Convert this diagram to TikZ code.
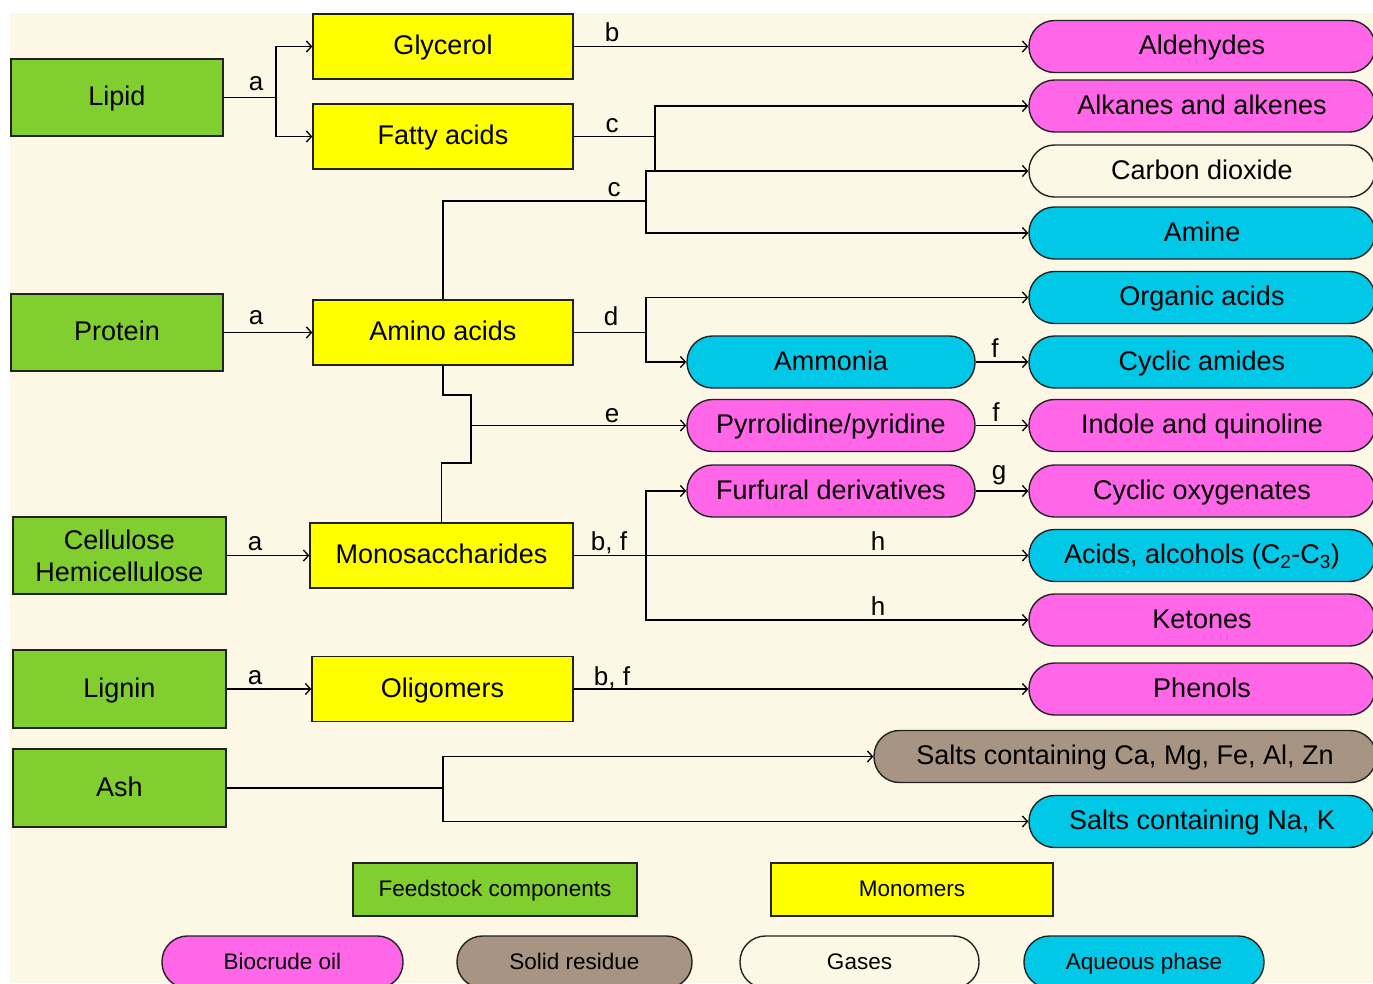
\documentclass[tikz,border=0pt]{standalone}
\usepackage{fontspec}
\setmainfont{Liberation Sans}
\usetikzlibrary{arrows.meta}
\definecolor{bgc}{HTML}{FDF7E6}
\definecolor{feed}{HTML}{80CE30}
\definecolor{mono}{HTML}{FFFF00}
\definecolor{oil}{HTML}{FF66E8}
\definecolor{aq}{HTML}{00C8E6}
\definecolor{solid}{HTML}{A89482}
\definecolor{edge}{HTML}{222222}
\tikzset{
  base/.style={draw=edge, line width=1.4pt, inner sep=0pt, align=center,
    font=\fontsize{27}{32}\selectfont, text=black},
  tx/.style={text height=20pt, text depth=4pt},
  gboxbase/.style={base, fill=feed, minimum width=212pt, minimum height=77pt},
  gbox/.style={gboxbase, tx},
  ybox/.style={base, tx, fill=mono, minimum width=260pt, minimum height=65pt},
  pill/.style={base, tx, rounded corners=25.5pt, minimum height=52pt},
  rpill/.style={pill, minimum width=346pt},
  mpill/.style={pill, minimum width=288pt},
  lgbox/.style={draw=edge, line width=1.4pt, inner sep=0pt, font=\fontsize{22.5}{26}\selectfont,
    text height=17pt, text depth=3pt, minimum height=53pt},
  lgpill/.style={lgbox, rounded corners=25.5pt, minimum height=52pt},
  conn/.style={draw=black, line width=1.4pt},
  arr/.style={conn, -{Straight Barb[length=5pt,width=11pt,line width=1.3pt]}},
  lab/.style={anchor=base, inner sep=0pt, font=\fontsize{26}{30}\selectfont}
}
\begin{document}
\begin{tikzpicture}[x=1pt,y=-1pt]
\clip (0,0) rectangle (1373,983);
\fill[white] (0,0) rectangle (1373,983);
\fill[bgc] (10,13) rectangle (1373,983);

% feedstock
\node[gbox] (lipid) at (117,97.5) {Lipid};
\node[gbox] (protein) at (117,332.5) {Protein};
\node[gboxbase, minimum width=213pt] (cell) at (119.5,555.5) {Cellulose\\Hemicellulose};
\node[gbox, minimum width=213pt, minimum height=78pt] (lignin) at (119.5,689) {Lignin};
\node[gbox, minimum width=213pt, minimum height=78pt] (ash) at (119.5,788) {Ash};

% monomers
\node[ybox] (glyc) at (443,46.5) {Glycerol};
\node[ybox] (fatty) at (443,136.5) {Fatty acids};
\node[ybox] (amino) at (443,332.5) {Amino acids};
\node[ybox, minimum width=263pt] (monos) at (441.5,555.5) {Monosaccharides};
\node[ybox, minimum width=261pt] (oligo) at (442.5,689) {Oligomers};

% products right column
\node[rpill, fill=oil] (ald) at (1202,46.5) {Aldehydes};
\node[rpill, fill=oil] (alk) at (1202,106) {Alkanes and alkenes};
\node[rpill, fill=bgc] (co2) at (1202,171) {Carbon dioxide};
\node[rpill, fill=aq] (amine) at (1202,233) {Amine};
\node[rpill, fill=aq] (org) at (1202,297.5) {Organic acids};
\node[rpill, fill=aq] (camide) at (1202,362) {Cyclic amides};
\node[rpill, fill=oil] (indole) at (1202,425.5) {Indole and quinoline};
\node[rpill, fill=oil] (coxy) at (1202,491) {Cyclic oxygenates};
\node[rpill, fill=aq] (acids) at (1202,555.5) {Acids, alcohols (C\textsubscript{2}-C\textsubscript{3})};
\node[rpill, fill=oil] (keto) at (1202,620) {Ketones};
\node[rpill, fill=oil] (phen) at (1202,689) {Phenols};
\node[pill, fill=solid, minimum width=502pt] (saltca) at (1125,756.5) {Salts containing Ca, Mg, Fe, Al, Zn};
\node[rpill, fill=aq] (saltna) at (1202,821.5) {Salts containing Na, K};

% products middle column
\node[mpill, fill=aq] (ammon) at (831,362) {Ammonia};
\node[mpill, fill=oil] (pyrr) at (831,425.5) {Pyrrolidine/pyridine};
\node[mpill, fill=oil] (furf) at (831,491) {Furfural derivatives};

% legend
\node[lgbox, fill=feed, minimum width=284pt] (lgfeed) at (495,889.5) {Feedstock components};
\node[lgbox, fill=mono, minimum width=282pt] (lgmono) at (912,889.5) {Monomers};
\node[lgpill, fill=oil, minimum width=241pt] (lgoil) at (282.5,962) {Biocrude oil};
\node[lgpill, fill=solid, minimum width=235pt] (lgsolid) at (574.5,962) {Solid residue};
\node[lgpill, fill=bgc, minimum width=239pt] (lggas) at (859.5,962) {Gases};
\node[lgpill, fill=aq, minimum width=240pt] (lgaq) at (1144,962) {Aqueous phase};

% junction coordinates
\coordinate (jl) at (276,97.5);
\coordinate (jf) at (655,136.5);
\coordinate (jc) at (646,201);
\coordinate (jd) at (646,332.5);
\coordinate (jm) at (646,555.5);
\coordinate (ja) at (443,788);

% Lipid -> glycerol, fatty acids
\draw[conn] (lipid.east) -- (jl);
\draw[arr] (jl) |- (glyc.west);
\draw[arr] (jl) |- (fatty.west);
\node[lab] (la1) at (256,90) {a};

% Glycerol -> aldehydes
\draw[arr] (glyc.east) -- (ald.west);
\node[lab] (lb1) at (612,41) {b};

% Fatty acids -> alkanes, CO2
\draw[conn] (fatty.east) -- (jf);
\draw[arr] (jf) |- (alk.west);
\draw[conn] (jf) -- (jf |- co2.west);
\node[lab] (lc1) at (612,132) {c};

% Amino acids -> CO2, amine
\draw[conn] (amino.north) |- (jc);
\draw[arr] (jc) |- (co2.west);
\draw[arr] (jc) |- (amine.west);
\node[lab] (lc2) at (614,196) {c};

% Protein -> amino acids
\draw[arr] (protein.east) -- (amino.west);
\node[lab] (la2) at (256,324) {a};

% Amino acids -> organic acids, ammonia
\draw[conn] (amino.east) -- (jd);
\draw[arr] (jd) |- (org.west);
\draw[arr] (jd) |- (ammon.west);
\node[lab] (ld) at (611,325) {d};

% Amino acids / Monosaccharides -> pyrrolidine
\draw[conn] (amino.south) -- (443,395) -- (471,395) -- (471,463) -- (441.5,463) -- (monos.north);
\draw[arr] (471,425.5) -- (pyrr.west);
\node[lab] (le) at (612,422) {e};

% f, f, g
\draw[arr] (ammon.east) -- (camide.west);
\node[lab] (lf1) at (995,357) {f};
\draw[arr] (pyrr.east) -- (indole.west);
\node[lab] (lf2) at (996,421) {f};
\draw[arr] (furf.east) -- (coxy.west);
\node[lab] (lg) at (999,479) {g};

% Cellulose -> monosaccharides
\draw[arr] (cell.east) -- (monos.west);
\node[lab] (la3) at (255,550) {a};

% Monosaccharides -> furfural, acids, ketones
\draw[conn] (monos.east) -- (jm);
\draw[arr] (jm) |- (furf.west);
\draw[arr] (jm) -- (acids.west);
\draw[arr] (jm) |- (keto.west);
\node[lab] (lbf1) at (609,550) {b, f};
\node[lab] (lh1) at (878,550) {h};
\node[lab] (lh2) at (878,615) {h};

% Lignin -> oligomers -> phenols
\draw[arr] (lignin.east) -- (oligo.west);
\node[lab] (la4) at (255,684) {a};
\draw[arr] (oligo.east) -- (phen.west);
\node[lab] (lbf2) at (612,685) {b, f};

% Ash -> salts
\draw[conn] (ash.east) -- (ja);
\draw[arr] (ja) |- (saltca.west);
\draw[arr] (ja) |- (saltna.west);
\end{tikzpicture}
\end{document}
